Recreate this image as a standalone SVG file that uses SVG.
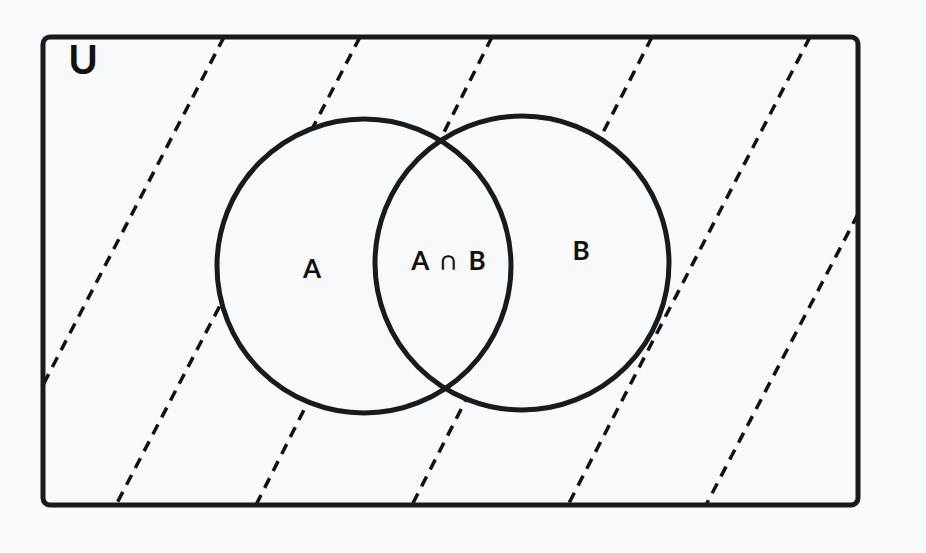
<svg xmlns="http://www.w3.org/2000/svg" width="926" height="553" viewBox="0 0 926 553">
<style>
.h{stroke:#111;stroke-width:3.5;stroke-dasharray:11 8;fill:none}
.c{stroke:#1a1a1a;stroke-width:5;fill:none}
.t{font-family:"Comic Sans MS","Lato",sans-serif;font-weight:bold;fill:#111}
</style>
<defs><clipPath id="r"><rect x="43" y="37" width="815" height="468" rx="7"/></clipPath></defs>
<rect width="926" height="553" fill="#f8f9fb"/>
<g id="connectors" clip-path="url(#r)">
<line class="h" x1="224" y1="37" x2="43" y2="385"/>
<line class="h" x1="360" y1="37" x2="116" y2="505"/>
<line class="h" x1="492" y1="37" x2="256" y2="505"/>
<line class="h" x1="652" y1="37" x2="412" y2="505"/>
<line class="h" x1="810" y1="37" x2="568" y2="505"/>
<line class="h" x1="858" y1="214" x2="706" y2="505"/>
</g>
<g fill="#f8f9fb"><circle cx="364" cy="266" r="147"/><circle cx="522" cy="263" r="147"/></g>
<g id="universe"><rect class="c" x="43" y="37" width="815" height="468" rx="7"/><text class="t" x="83" y="74" font-size="40" text-anchor="middle">U</text></g>
<g id="setA"><circle class="c" cx="364" cy="266" r="147"/><text class="t" x="312" y="278" font-size="26" text-anchor="middle">A</text></g>
<g id="setB"><circle class="c" cx="522" cy="263" r="147"/><text class="t" x="581" y="260" font-size="26" text-anchor="middle">B</text></g>
<g id="intersection"><text class="t" x="450" y="270" font-size="26" text-anchor="middle" letter-spacing="3">A ∩ B</text></g>
</svg>
